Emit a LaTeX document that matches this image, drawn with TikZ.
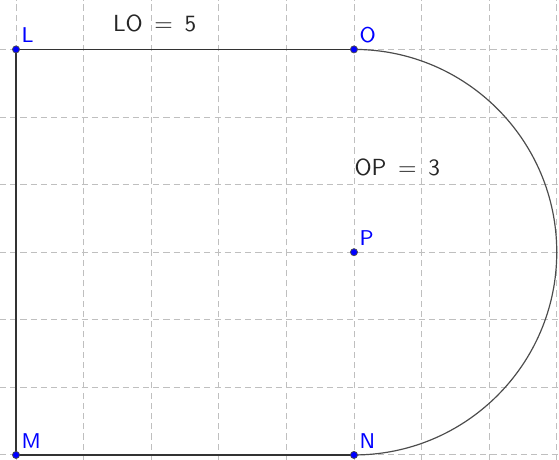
\documentclass[tikz,border=0pt]{standalone}
\usepackage{tikz}
\begin{document}
\begin{tikzpicture}[
  gridline/.style={draw=black!25, line width=0.4pt, dash pattern=on 2.6pt off 1.7pt},
  edge/.style={draw=black!80, line width=0.5pt},
  pt/.style={circle, fill=blue, draw=black!70, line width=0.3pt, inner sep=0pt, minimum size=3pt},
  ptlabel/.style={text=blue, font=\sffamily\fontsize{9}{10}\selectfont, anchor=south west, inner sep=0pt},
  measure/.style={font=\sffamily\fontsize{9.8}{11}\selectfont, text=black!85}
]
\useasboundingbox (-0.237,-0.074) rectangle (8.033,6.731);
\fill[white] (-0.237,-0.074) rectangle (8.033,6.731);
% grid
\foreach \x in {0,...,8} \draw[gridline] (\x,-0.074) -- (\x,6.731);
\foreach \y in {0,...,6} \draw[gridline] (-0.237,\y) -- (8.033,\y);
% points
\coordinate (L) at (0,6);
\coordinate (O) at (5,6);
\coordinate (P) at (5,3);
\coordinate (M) at (0,0);
\coordinate (N) at (5,0);
% shape
\draw[edge] (O) -- (L) -- (M) -- (N);
\draw[edge, draw=black!70] (O) arc[start angle=90, end angle=-90, radius=3];
% dots
\foreach \p in {L,O,P,M,N} {
  \node[pt] (d\p) at (\p) {};
  \node[ptlabel] (l\p) at ([shift={(0.075,0.09)}]\p) {\p};
}
% measures
\node[measure] (lo) at (2.05,6.39) {LO\,\ $=$\ \,5};
\node[measure] (op) at (5.64,4.26) {OP\,\ $=$\ \,3};
\end{tikzpicture}
\end{document}
